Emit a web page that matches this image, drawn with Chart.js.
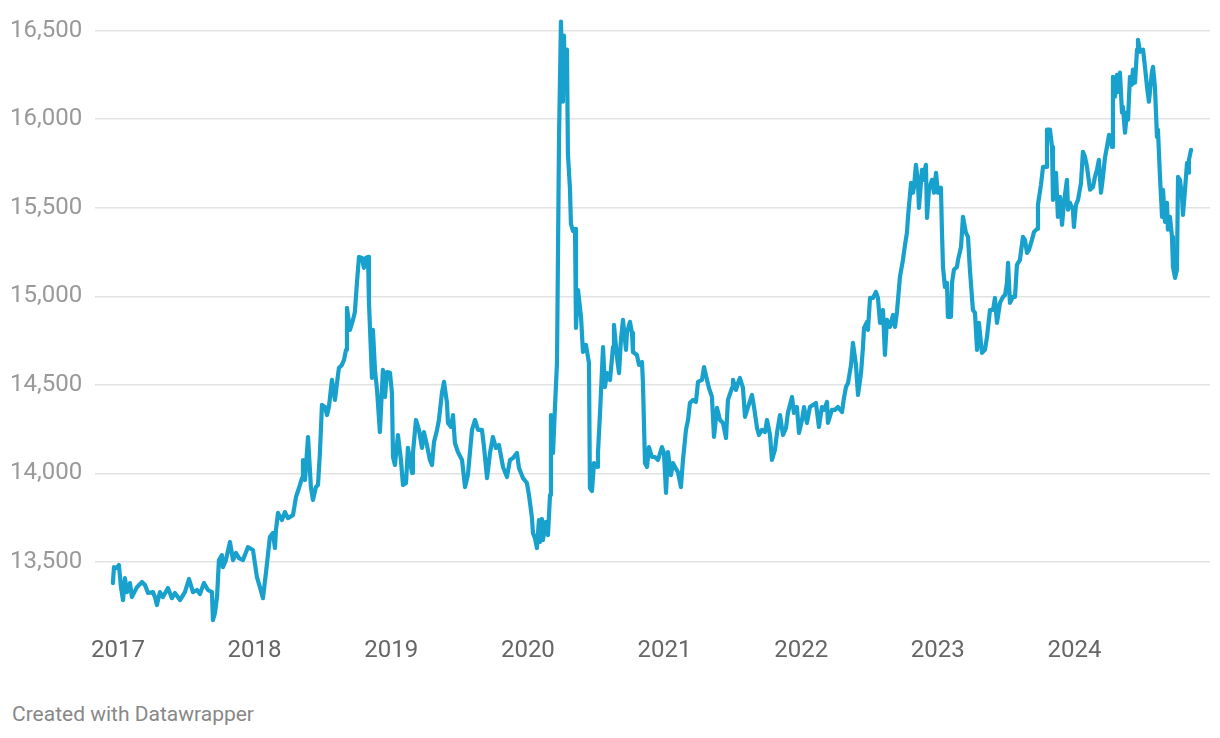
<!DOCTYPE html>
<html>
<head>
<meta charset="utf-8">
<script src="https://cdn.jsdelivr.net/npm/chart.js@4.4.1/dist/chart.umd.min.js"></script>
<style>
  html, body { margin: 0; padding: 0; background: #fff; }
  #wrap { position: relative; width: 1220px; height: 738px; overflow: hidden; }
  #box { position: absolute; left: 0; top: 0; width: 1220px; height: 680px; }
  #credit { position: absolute; left: 12px; top: 704px; font: 21px/21px Roboto, sans-serif; color: #888; white-space: nowrap; }
</style>
</head>
<body>
<div id="wrap">
  <div id="box"><canvas id="myChart"></canvas></div>
  <div id="credit">Created with Datawrapper</div>
</div>
<script>
// dates as decimal years, rates
const dates = [
  2016.963, 2016.971, 2016.993, 2017.007, 2017.022, 2017.037, 2017.051, 2017.066, 2017.088, 2017.102,
  2017.139, 2017.176, 2017.198, 2017.220, 2017.256, 2017.271, 2017.285, 2017.307, 2017.329, 2017.366,
  2017.395, 2017.417, 2017.454, 2017.490, 2017.520, 2017.549, 2017.578, 2017.600, 2017.629, 2017.659,
  2017.688, 2017.695, 2017.710, 2017.725, 2017.739, 2017.761, 2017.768, 2017.790, 2017.820, 2017.842,
  2017.864, 2017.886, 2017.915, 2017.951, 2017.988, 2018.017, 2018.039, 2018.061, 2018.083, 2018.112,
  2018.134, 2018.149, 2018.156, 2018.171, 2018.200, 2018.222, 2018.244, 2018.281, 2018.303, 2018.325,
  2018.347, 2018.354, 2018.369, 2018.391, 2018.412, 2018.427, 2018.449, 2018.464, 2018.478, 2018.493,
  2018.515, 2018.530, 2018.544, 2018.566, 2018.588, 2018.603, 2018.617, 2018.639, 2018.654, 2018.669,
  2018.676, 2018.698, 2018.720, 2018.734, 2018.749, 2018.764, 2018.786, 2018.800, 2018.815, 2018.830,
  2018.837, 2018.859, 2018.866, 2018.881, 2018.896, 2018.917, 2018.939, 2018.954, 2018.969, 2018.991,
  2019.005, 2019.013, 2019.027, 2019.049, 2019.071, 2019.086, 2019.108, 2019.122, 2019.152, 2019.159,
  2019.181, 2019.203, 2019.225, 2019.239, 2019.261, 2019.283, 2019.298, 2019.313, 2019.335, 2019.349,
  2019.371, 2019.386, 2019.408, 2019.415, 2019.437, 2019.452, 2019.466, 2019.488, 2019.518, 2019.540,
  2019.561, 2019.591, 2019.613, 2019.635, 2019.664, 2019.679, 2019.701, 2019.723, 2019.744, 2019.766,
  2019.788, 2019.818, 2019.847, 2019.869, 2019.891, 2019.920, 2019.935, 2019.964, 2019.993, 2020.008,
  2020.030, 2020.037, 2020.052, 2020.066, 2020.081, 2020.088, 2020.103, 2020.110, 2020.132, 2020.147,
  2020.162, 2020.169, 2020.184, 2020.198, 2020.213, 2020.220, 2020.228, 2020.242, 2020.257, 2020.264,
  2020.271, 2020.286, 2020.293, 2020.308, 2020.315, 2020.330, 2020.345, 2020.352, 2020.367, 2020.389,
  2020.403, 2020.425, 2020.447, 2020.454, 2020.469, 2020.484, 2020.506, 2020.513, 2020.528, 2020.550,
  2020.564, 2020.579, 2020.601, 2020.623, 2020.630, 2020.652, 2020.667, 2020.681, 2020.696, 2020.718,
  2020.725, 2020.747, 2020.762, 2020.769, 2020.798, 2020.813, 2020.835, 2020.842, 2020.857, 2020.872,
  2020.886, 2020.908, 2020.930, 2020.952, 2020.981, 2020.996, 2021.011, 2021.025, 2021.047, 2021.062,
  2021.076, 2021.098, 2021.120, 2021.135, 2021.157, 2021.172, 2021.186, 2021.208, 2021.230, 2021.245,
  2021.274, 2021.289, 2021.311, 2021.325, 2021.347, 2021.362, 2021.384, 2021.406, 2021.428, 2021.450,
  2021.464, 2021.494, 2021.501, 2021.523, 2021.538, 2021.552, 2021.574, 2021.589, 2021.611, 2021.640,
  2021.655, 2021.677, 2021.691, 2021.713, 2021.735, 2021.750, 2021.772, 2021.786, 2021.808, 2021.823,
  2021.845, 2021.867, 2021.889, 2021.903, 2021.933, 2021.947, 2021.969, 2021.984, 2022.006, 2022.021,
  2022.042, 2022.064, 2022.086, 2022.108, 2022.130, 2022.152, 2022.167, 2022.189, 2022.196, 2022.225,
  2022.247, 2022.269, 2022.299, 2022.313, 2022.328, 2022.343, 2022.365, 2022.379, 2022.401, 2022.416,
  2022.438, 2022.452, 2022.460, 2022.482, 2022.489, 2022.504, 2022.526, 2022.547, 2022.562, 2022.577,
  2022.599, 2022.613, 2022.628, 2022.650, 2022.672, 2022.687, 2022.701, 2022.723, 2022.745, 2022.760,
  2022.774, 2022.782, 2022.804, 2022.818, 2022.826, 2022.840, 2022.855, 2022.862, 2022.884, 2022.891,
  2022.913, 2022.921, 2022.935, 2022.957, 2022.972, 2022.987, 2023.001, 2023.023, 2023.030, 2023.038,
  2023.052, 2023.067, 2023.074, 2023.096, 2023.104, 2023.118, 2023.140, 2023.148, 2023.170, 2023.184,
  2023.206, 2023.221, 2023.235, 2023.257, 2023.272, 2023.287, 2023.301, 2023.323, 2023.345, 2023.360,
  2023.382, 2023.404, 2023.418, 2023.433, 2023.455, 2023.477, 2023.492, 2023.506, 2023.514, 2023.528,
  2023.550, 2023.565, 2023.579, 2023.601, 2023.623, 2023.638, 2023.653, 2023.667, 2023.689, 2023.704,
  2023.726, 2023.733, 2023.755, 2023.770, 2023.792, 2023.799, 2023.821, 2023.836, 2023.843, 2023.865,
  2023.879, 2023.894, 2023.909, 2023.923, 2023.945, 2023.953, 2023.967, 2023.989, 2023.996, 2024.011,
  2024.026, 2024.048, 2024.062, 2024.077, 2024.092, 2024.114, 2024.136, 2024.150, 2024.165, 2024.179,
  2024.194, 2024.209, 2024.223, 2024.238, 2024.253, 2024.275, 2024.282, 2024.297, 2024.311, 2024.319,
  2024.333, 2024.348, 2024.355, 2024.370, 2024.384, 2024.392, 2024.406, 2024.421, 2024.428, 2024.443,
  2024.458, 2024.465, 2024.480, 2024.502, 2024.516, 2024.531, 2024.545, 2024.567, 2024.575, 2024.589,
  2024.604, 2024.611, 2024.626, 2024.641, 2024.648, 2024.663, 2024.677, 2024.684, 2024.699, 2024.714,
  2024.721, 2024.736, 2024.750, 2024.758, 2024.772, 2024.787, 2024.794, 2024.809, 2024.824, 2024.831,
  2024.838, 2024.853
];
const rates = [
  13381, 13471, 13466, 13483, 13358, 13285, 13409, 13330, 13381, 13302,
  13358, 13387, 13370, 13325, 13330, 13302, 13257, 13330, 13302, 13353,
  13296, 13325, 13285, 13330, 13404, 13330, 13342, 13319, 13381, 13342,
  13330, 13172, 13212, 13302, 13511, 13539, 13471, 13511, 13613, 13511,
  13551, 13522, 13511, 13584, 13568, 13415, 13358, 13296, 13438, 13641,
  13664, 13579, 13680, 13777, 13737, 13782, 13748, 13765, 13867, 13918,
  13974, 14076, 13963, 14206, 13924, 13850, 13924, 13935, 14116, 14387,
  14375, 14330, 14375, 14528, 14415, 14511, 14596, 14613, 14641, 14698,
  14935, 14811, 14867, 14912, 15076, 15223, 15217, 15161, 15217, 15223,
  14963, 14539, 14811, 14585, 14472, 14234, 14585, 14432, 14573, 14568,
  14455, 14093, 14048, 14217, 14076, 13935, 13946, 14144, 14003, 14116,
  14302, 14246, 14144, 14234, 14161, 14076, 14048, 14178, 14246, 14302,
  14455, 14517, 14398, 14285, 14263, 14330, 14172, 14121, 14076, 13923,
  13991, 14246, 14302, 14246, 14246, 14149, 13974, 14116, 14206, 14144,
  14161, 14037, 13980, 14076, 14087, 14116, 14031, 13974, 13946, 13878,
  13748, 13664, 13635, 13579, 13737, 13613, 13743, 13624, 13726, 13652,
  13878, 14330, 14116, 14370, 14624, 15217, 15901, 16551, 16099, 16472,
  16195, 16393, 15805, 15607, 15409, 15370, 15381, 14822, 15036, 14884,
  14686, 14726, 14624, 13918, 13901, 14059, 14037, 14116, 14342, 14714,
  14488, 14567, 14528, 14714, 14839, 14658, 14567, 14754, 14867, 14698,
  14794, 14856, 14794, 14686, 14669, 14613, 14630, 14511, 14059, 14037,
  14149, 14093, 14093, 14076, 14149, 14116, 13890, 14121, 13991, 14059,
  14037, 14008, 13923, 14076, 14246, 14302, 14398, 14415, 14404, 14517,
  14528, 14601, 14528, 14483, 14432, 14206, 14370, 14302, 14285, 14200,
  14415, 14483, 14528, 14472, 14511, 14539, 14483, 14319, 14375, 14443,
  14375, 14257, 14217, 14246, 14234, 14302, 14217, 14076, 14133, 14229,
  14330, 14217, 14257, 14342, 14432, 14342, 14375, 14229, 14302, 14375,
  14285, 14375, 14387, 14398, 14263, 14375, 14359, 14404, 14285, 14359,
  14359, 14375, 14347, 14426, 14488, 14511, 14613, 14737, 14613, 14443,
  14567, 14709, 14822, 14856, 14811, 14991, 14991, 15025, 14991, 14850,
  14923, 14669, 14867, 14828, 14895, 14828, 14912, 15110, 15206, 15291,
  15359, 15449, 15641, 15585, 15618, 15743, 15641, 15500, 15715, 15658,
  15743, 15443, 15602, 15658, 15585, 15698, 15585, 15613, 15376, 15166,
  15053, 15076, 14884, 14884, 15076, 15150, 15166, 15206, 15279, 15449,
  15359, 15336, 15150, 14923, 14907, 14698, 14850, 14681, 14698, 14771,
  14923, 14923, 14991, 14850, 14963, 14997, 15008, 15076, 15189, 14963,
  14997, 14997, 15178, 15206, 15336, 15319, 15245, 15262, 15319, 15364,
  15381, 15517, 15630, 15731, 15731, 15941, 15941, 15844, 15545, 15698,
  15449, 15562, 15404, 15528, 15658, 15489, 15528, 15489, 15392, 15517,
  15545, 15641, 15816, 15788, 15731, 15602, 15618, 15675, 15715, 15771,
  15585, 15675, 15782, 15844, 15912, 15844, 16240, 16127, 16251, 16155,
  16263, 16037, 16070, 15924, 16037, 15997, 16240, 16195, 16280, 16206,
  16393, 16449, 16381, 16393, 16296, 16183, 16099, 16268, 16296, 16183,
  15901, 15941, 15675, 15449, 15602, 15421, 15528, 15376, 15449, 15336,
  15166, 15104, 15150, 15675, 15658, 15562, 15460, 15602, 15754, 15698,
  15771, 15827
];
const yearTicks = [2017, 2018, 2019, 2020, 2021, 2022, 2023, 2024];
const rateTicks = [13500, 14000, 14500, 15000, 15500, 16000, 16500];

const points = dates.map((d, i) => ({ x: d, y: rates[i] }));
if (dates.length !== rates.length) console.log('length mismatch', dates.length, rates.length);

const ctx = document.getElementById('myChart');
const myChart = new Chart(ctx, {
  type: 'line',
  data: {
    datasets: [{
      data: points,
      borderColor: '#18a1cd',
      borderWidth: 4.2,
      pointRadius: 0,
      tension: 0,
      fill: false,
      borderJoinStyle: 'round',
      borderCapStyle: 'round'
    }]
  },
  options: {
    responsive: true,
    maintainAspectRatio: false,
    animation: false,
    events: [],
    layout: { padding: { left: 10, right: 10, top: 13, bottom: 0 } },
    plugins: { legend: { display: false }, tooltip: { enabled: false } },
    scales: {
      x: {
        type: 'linear',
        min: 2016.832,
        max: 2024.992,
        afterBuildTicks: s => { s.ticks = yearTicks.map(v => ({ value: v })); },
        afterFit: s => { s.height = 56; },
        grid: { display: false, drawTicks: false },
        border: { display: false },
        ticks: {
          padding: 13,
          color: '#666',
          font: { family: 'Roboto', size: 24 },
          callback: v => String(v)
        }
      },
      y: {
        min: 13150,
        max: 16600,
        afterBuildTicks: s => { s.ticks = rateTicks.map(v => ({ value: v })); },
        afterFit: s => { s.width = 85; },
        grid: { color: '#e3e3e3', lineWidth: 1.6, drawTicks: false },
        border: { display: false },
        ticks: {
          padding: 0,
          crossAlign: 'far',
          color: '#999',
          font: { family: 'Roboto', size: 24, lineHeight: 1 },
          callback: v => v.toLocaleString('en-US')
        }
      }
    }
  }
});
</script>
</body>
</html>
